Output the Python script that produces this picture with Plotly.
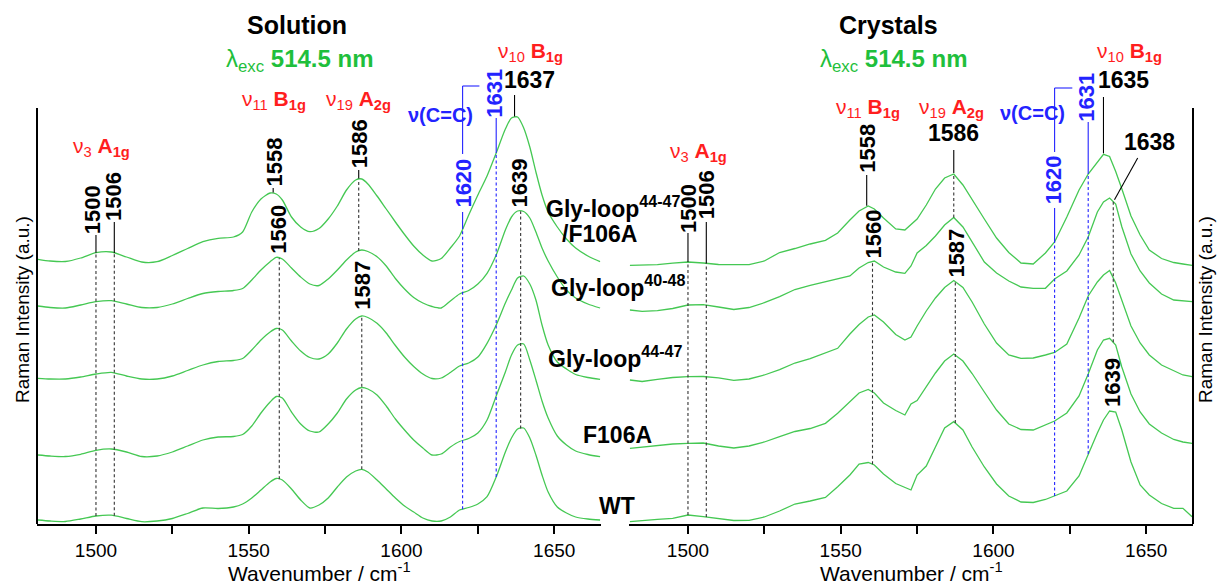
import numpy as np
import plotly.graph_objects as go

# ---------------- data ----------------
# Solution spectra (left panel); intensities in a.u. above each trace's own baseline
sol_wn = [1481, 1485, 1490, 1495, 1500, 1505, 1510, 1515, 1520, 1525,
          1530, 1535, 1540, 1545, 1548, 1551, 1554, 1557, 1559, 1561,
          1564, 1567, 1570, 1573, 1576, 1579, 1582, 1585, 1587, 1589,
          1592, 1595, 1598, 1601, 1604, 1607, 1610, 1613, 1616, 1619,
          1622, 1625, 1628, 1631, 1634, 1636, 1638, 1640, 1642, 1644,
          1646, 1648, 1651, 1654, 1657, 1661, 1665]
sol_WT = [4, 3, 2.5, 5, 8, 8.8, 5.5, 2.3, 3, 5.5,
          10.5, 16, 15.5, 17, 20, 26, 34, 42, 45.5, 44,
          35, 24, 16, 19, 26, 37, 47, 53, 54.7, 52,
          44, 35, 26, 18, 12, 6, 3, 3, 7, 14,
          16.5, 20, 27.3, 47, 72, 86, 95, 96, 86, 69,
          49, 32, 17, 11, 7, 5, 4]
sol_F106A = [3, 2, 1.5, 3.7, 7.7, 9, 6, 1.5, 2, 6,
             12, 18, 21, 21.5, 23.5, 32, 45, 56, 61.5, 60,
             46, 34, 27, 26, 34, 45, 59, 68, 70.5, 69,
             63, 52, 39, 28, 18, 10, 3, 4, 11, 16.5,
             19.5, 25, 38, 62, 86, 103, 113, 114, 98, 78,
             57, 40, 22, 13, 7, 3.5, 1.3]
sol_GL4447 = [3.7, 3, 3, 5, 8, 9.7, 6, 3, 3, 6,
              11.5, 17, 20.5, 21.5, 23.5, 32, 42, 50, 53.5, 52,
              41, 31, 24.5, 23, 28, 39, 53, 63, 66, 64.5,
              58.7, 49, 36.5, 25, 15.5, 8, 3.5, 4, 9.5, 16,
              19, 25, 38.7, 57, 79, 92, 104, 106, 98, 82,
              57, 37, 20, 13, 7.5, 4.5, 2.7]
sol_GL4048 = [4, 2.5, 2, 5, 8.3, 9.3, 6, 2.5, 2.5, 6,
              11.5, 16.5, 18.5, 19.5, 21.5, 30, 40, 48.3, 52.7, 51,
              42, 33, 26, 24.5, 31, 40, 50, 58, 60, 58.5,
              53.3, 44, 31.5, 21, 12.5, 7, 3.5, 2, 9, 16,
              19.5, 26, 36.7, 55, 80, 93, 99, 98.5, 92, 78,
              62, 49, 33, 20, 12, 6, 2]
sol_GL4447F = [2.7, 1, 0.5, 4, 9.3, 10, 5, 0, 0.3, 6.5,
               13.5, 20.3, 23.7, 25, 30, 50, 63, 69, 68, 62,
               45, 35, 30.3, 33.5, 43, 56, 72, 82, 83, 78,
               66, 53, 40, 27.5, 16, 7, 1, 3.5, 14, 26,
               47, 67, 86, 109, 133, 144, 145, 134, 115, 90,
               67, 50, 35, 23, 14, 6, 0.3]
sol_offsets = [0, 66, 142, 214, 262]

# Crystal spectra (right panel)
cry_wn = [1481, 1485, 1490, 1495, 1500, 1505, 1510, 1515, 1520, 1525,
          1530, 1535, 1540, 1545, 1549, 1553, 1556, 1559, 1561, 1564,
          1568, 1571, 1573, 1575, 1578, 1581, 1584, 1587, 1590, 1593,
          1597, 1601, 1605, 1609, 1613, 1617, 1620, 1624, 1628, 1631,
          1634, 1636, 1638, 1640, 1642, 1645, 1648, 1651, 1655, 1659,
          1662, 1665]
cry_WT = [2.3, 3.5, 4.7, 5.7, 9, 7.3, 5.7, 3.5, 3.7, 7,
          13, 20, 23, 26.5, 37.3, 49, 60, 61.5, 59, 50,
          40.5, 37, 34, 49, 58, 77, 96, 102.3, 94, 77,
          57, 40, 28, 22, 21.5, 24.5, 28, 33, 48, 70,
          91, 104, 113, 112, 94, 62, 39, 29, 20.5, 15.7,
          15.7, 7.3]
cry_F106A = [3.7, 5, 6, 8, 8.7, 9, 6, 4, 6, 10,
             15.3, 20.5, 23.5, 28.7, 38.7, 50.5, 59, 62.5, 59, 49,
             41.5, 37, 48, 51.5, 65, 79, 91, 98, 91, 78.5,
             60, 42, 28, 22.5, 22, 27, 31, 39, 56, 78,
             102, 112, 113.7, 107, 85, 58, 40, 28, 19, 12.5,
             10, 8.7]
cry_GL4447 = [2, 0.5, 2.7, 4.5, 5.3, 5.5, 4.2, 1.7, 3, 7,
              12.3, 19, 23.3, 28.7, 33.7, 48, 57.5, 65, 67, 60,
              47.5, 42, 45, 56, 71, 84, 94.5, 101.5, 94.5, 80,
              58, 39, 27, 23.7, 24, 27, 29.5, 38, 64, 86,
              100, 107, 111.5, 99, 82, 56, 39, 27, 17, 11,
              7, 5.3]
cry_GL4048 = [2, 0.7, 1.3, 3.5, 7, 7.3, 5, 2.5, 4.5, 9.3,
              15.3, 22.5, 26.7, 30.3, 32.7, 36, 44, 49.5, 51, 45,
              40, 38.7, 46, 59, 66.5, 76, 87, 94.5, 85, 70,
              50, 39, 31, 25, 23.7, 23.7, 33, 41, 57, 75,
              100, 110, 114, 108, 85.3, 58, 41, 29, 18, 12,
              11, 10.3]
cry_GL4447F = [2.7, 2.7, 3.3, 4.8, 6, 5, 3.5, 3.3, 3.3, 7,
               15.5, 19.5, 24, 27.7, 35, 48, 57, 62, 59, 50,
               39, 38, 44, 49, 63, 79, 90, 94, 83, 68,
               49, 30, 15.5, 5, 4, 15, 26, 51, 78, 94,
               106, 113.7, 111.5, 96.5, 79.3, 52, 33, 18, 9.5, 5.5,
               4, 2.7]
cry_offsets = [0, 72, 142, 212, 256]

sample_keys = ["WT", "F106A", "GL4447", "GL4048", "GL4447F"]
sample_labels = ["WT", "F106A", "Gly-loop<sup>44-47</sup>", "Gly-loop<sup>40-48</sup>",
                 "Gly-loop<sup>44-47</sup>"]

sol = dict(zip(sample_keys, [sol_WT, sol_F106A, sol_GL4447, sol_GL4048, sol_GL4447F]))
cry = dict(zip(sample_keys, [cry_WT, cry_F106A, cry_GL4447, cry_GL4048, cry_GL4447F]))
sol_off = dict(zip(sample_keys, sol_offsets))
cry_off = dict(zip(sample_keys, cry_offsets))
for k in sample_keys:
    assert len(sol[k]) == len(sol_wn) and len(cry[k]) == len(cry_wn)

x_ticks = [1500, 1525, 1550, 1575, 1600, 1625, 1650]
x_ticktext = ["1500", "", "1550", "", "1600", "", "1650"]
X_RANGE = [1480.7, 1665.3]

# ---------------- layout helpers ----------------
W, H = 1217, 587
ML, MR, MT, MB = 37, 24, 0, 63
PW, PH = W - ML - MR, H - MT - MB
FONT = "Arial, 'Liberation Sans', sans-serif"
GREEN = "#45c853"
RED = "#ff1e1e"
BLUE = "#2323ff"
TGREEN = "#1fbf3c"


def ypx(p):
    return PH - p


def xpaper(p):
    return (p - ML) / PW


def ysol(k, wn):
    return sol_off[k] + float(np.interp(wn, sol_wn, sol[k]))


def ycry(k, wn):
    return cry_off[k] + float(np.interp(wn, cry_wn, cry[k]))


fig = go.Figure()
for k in sample_keys:
    fig.add_trace(go.Scatter(x=sol_wn, y=[v + sol_off[k] for v in sol[k]], mode="lines",
                             line=dict(color=GREEN, width=1.3, shape="spline", smoothing=0.7),
                             xaxis="x", yaxis="y", showlegend=False, hoverinfo="skip"))
    fig.add_trace(go.Scatter(x=cry_wn, y=[v + cry_off[k] for v in cry[k]], mode="lines",
                             line=dict(color=GREEN, width=1.3),
                             xaxis="x2", yaxis="y2", showlegend=False, hoverinfo="skip"))

shapes = []
anns = []


def seg(xr, yr, x0, y0, x1, y1, color="black", dash="solid", width=1.1):
    shapes.append(dict(type="line", xref=xr, yref=yr, x0=x0, y0=y0, x1=x1, y1=y1,
                       line=dict(color=color, width=width, dash=dash)))


def ann(text, x, y, xr, yr, size, color="black", angle=0, xa="center", ya="middle"):
    anns.append(dict(text=text, x=x, y=y, xref=xr, yref=yr, showarrow=False,
                     textangle=angle, xanchor=xa, yanchor=ya,
                     font=dict(family=FONT, size=size, color=color)))


DASH = "3px,2.5px"
NUMSZ = 22
HNUMSZ = 23
MODESZ = 21
ROWSZ = 23


def mode(nu, sym, sub):
    return "ν<sub>%s</sub> <b>%s<sub>%s</sub></b>" % (nu, sym, sub)


LAMBDA = "λ<sub>exc</sub> <b>514.5 nm</b>"

# ---- left panel (Solution) ----
X, Y = "x", "y"
T = "GL4447F"
seg(X, Y, 1637, ysol(T, 1637) + 1, 1637, ypx(95))
seg(X, Y, 1558, ysol(T, 1558) + 1, 1558, ypx(188))
seg(X, Y, 1586, ysol(T, 1586) + 1, 1586, ypx(170))
for w, top in [(1500, 235), (1506, 222)]:
    seg(X, Y, w, ysol(T, w), w, ypx(top))
    seg(X, Y, w, ysol("WT", w), w, ysol(T, w), color="#333", dash=DASH)
seg(X, Y, 1586, ysol("GL4048", 1586), 1586, ysol(T, 1586), color="#333", dash=DASH)
seg(X, Y, 1560, ysol("WT", 1560), 1560, ysol("GL4048", 1560), color="#333", dash=DASH)
seg(X, Y, 1587, ysol("WT", 1587), 1587, ysol("GL4447", 1587), color="#333", dash=DASH)
seg(X, Y, 1639, ysol("WT", 1639), 1639, ysol("GL4048", 1639), color="#333", dash=DASH)
# blue bracket
seg(X, Y, 1620, ypx(86), 1620, ypx(154), color=BLUE)
seg(X, Y, 1620, ypx(212), 1620, ysol(T, 1620), color=BLUE)
seg(X, Y, 1620, ypx(86), 1625.5, ypx(86), color=BLUE)
seg(X, Y, 1631, ypx(118), 1631, ysol(T, 1631), color=BLUE)
seg(X, Y, 1620, ysol("WT", 1620), 1620, ysol(T, 1620), color=BLUE, dash=DASH)
seg(X, Y, 1631, ysol("WT", 1631), 1631, ysol(T, 1631), color=BLUE, dash=DASH)

ann("<b>Solution</b>", 1565.7, ypx(25), X, Y, 25)
ann(LAMBDA, 1566.9, ypx(60), X, Y, 24, TGREEN)
ann(mode("10", "B", "1g"), 1642.2, ypx(52), X, Y, MODESZ, RED)
ann("<b>1637</b>", 1642.0, ypx(80), X, Y, HNUMSZ)
ann(mode("11", "B", "1g"), 1558.4, ypx(100), X, Y, MODESZ, RED)
ann(mode("19", "A", "2g"), 1585.8, ypx(100), X, Y, MODESZ, RED)
ann("<b>ν(C=C)</b>", 1612.9, ypx(115), X, Y, 20, BLUE)
ann("<b>1620</b>", 1620, ypx(183), X, Y, NUMSZ, BLUE, angle=-90)
ann("<b>1631</b>", 1630.2, ypx(93), X, Y, NUMSZ, BLUE, angle=-90)
ann("<b>1558</b>", 1558.4, ypx(162), X, Y, NUMSZ, angle=-90)
ann("<b>1586</b>", 1586.2, ypx(144), X, Y, NUMSZ, angle=-90)
ann("<b>1500</b>", 1498.8, ypx(210), X, Y, NUMSZ, angle=-90)
ann("<b>1506</b>", 1505.6, ypx(197), X, Y, NUMSZ, angle=-90)
ann(mode("3", "A", "1g"), 1501.7, ypx(147), X, Y, MODESZ, RED)
ann("<b>1560</b>", 1559.5, ypx(229), X, Y, NUMSZ, angle=-90)
ann("<b>1587</b>", 1587.0, ypx(285), X, Y, NUMSZ, angle=-90)
ann("<b>1639</b>", 1638.6, ypx(183), X, Y, NUMSZ, angle=-90)

# ---- right panel (Crystals) ----
X, Y = "x2", "y2"
seg(X, Y, 1636, ycry(T, 1636) + 1, 1636, ypx(97))
seg(X, Y, 1558.5, ycry(T, 1558.5) + 1, 1558.5, ypx(175))
seg(X, Y, 1587, ycry(T, 1587) + 1, 1587, ypx(150))
for w, top in [(1500, 233), (1506, 222)]:
    seg(X, Y, w, ycry(T, w), w, ypx(top))
    seg(X, Y, w, ycry("WT", w), w, ycry(T, w), color="#333", dash=DASH)
seg(X, Y, 1647.2, ypx(158), 1639.6, ycry("GL4048", 1639.6) + 3)
seg(X, Y, 1587, ycry("GL4048", 1587), 1587, ycry(T, 1587), color="#333", dash=DASH)
seg(X, Y, 1560.4, ycry("WT", 1560.4), 1560.4, ycry("GL4048", 1560.4), color="#333", dash=DASH)
seg(X, Y, 1587.5, ycry("WT", 1587.5), 1587.5, ycry("GL4447", 1587.5), color="#333", dash=DASH)
seg(X, Y, 1639.2, ycry("F106A", 1639.2), 1639.2, ycry("GL4048", 1639.2), color="#333", dash=DASH)
seg(X, Y, 1620, ypx(88), 1620, ypx(152), color=BLUE)
seg(X, Y, 1620, ypx(208), 1620, ycry(T, 1620), color=BLUE)
seg(X, Y, 1620, ypx(88), 1625.8, ypx(88), color=BLUE)
seg(X, Y, 1631, ypx(122), 1631, ycry(T, 1631), color=BLUE)
seg(X, Y, 1620, ycry("WT", 1620), 1620, ycry(T, 1620), color=BLUE, dash=DASH)
seg(X, Y, 1631, ycry("WT", 1631), 1631, ycry(T, 1631), color=BLUE, dash=DASH)

ann("<b>Crystals</b>", 1565.6, ypx(25), X, Y, 25)
ann(LAMBDA, 1567.4, ypx(60), X, Y, 24, TGREEN)
ann(mode("10", "B", "1g"), 1644.6, ypx(52), X, Y, MODESZ, RED)
ann("<b>1635</b>", 1642.7, ypx(80), X, Y, HNUMSZ)
ann(mode("11", "B", "1g"), 1558.9, ypx(108), X, Y, MODESZ, RED)
ann(mode("19", "A", "2g"), 1586.4, ypx(108), X, Y, MODESZ, RED)
ann("<b>ν(C=C)</b>", 1612.9, ypx(113), X, Y, 20, BLUE)
ann("<b>1620</b>", 1619.6, ypx(180), X, Y, NUMSZ, BLUE, angle=-90)
ann("<b>1631</b>", 1630.2, ypx(97), X, Y, NUMSZ, BLUE, angle=-90)
ann("<b>1558</b>", 1558.5, ypx(148), X, Y, NUMSZ, angle=-90)
ann("<b>1586</b>", 1587.0, ypx(133), X, Y, HNUMSZ)
ann("<b>1638</b>", 1651.1, ypx(142), X, Y, HNUMSZ)
ann("<b>1500</b>", 1500.0, ypx(208), X, Y, NUMSZ, angle=-90)
ann("<b>1506</b>", 1506.0, ypx(195), X, Y, NUMSZ, angle=-90)
ann(mode("3", "A", "1g"), 1503.4, ypx(152), X, Y, MODESZ, RED)
ann("<b>1560</b>", 1560.4, ypx(234), X, Y, NUMSZ, angle=-90)
ann("<b>1587</b>", 1587.6, ypx(253), X, Y, NUMSZ, angle=-90)
ann("<b>1639</b>", 1638.8, ypx(383), X, Y, NUMSZ, angle=-90)

# ---- sample labels between the panels ----
row_pos = [(617, 506), (617, 435), (615, 357), (618, 286), (613, 207)]
for lab, (px, py) in zip(sample_labels, row_pos):
    ann("<b>%s</b>" % lab, xpaper(px), ypx(py), "paper", "y", ROWSZ)
ann("<b>/F106A</b>", xpaper(599), ypx(234), "paper", "y", ROWSZ)

# ---- axis titles ----
for xr in ["x", "x2"]:
    anns.append(dict(text="Wavenumber / cm<sup>-1</sup>", x=0.5 * sum(X_RANGE), xref=xr,
                     y=(PH - 572) / PH, yref="paper", showarrow=False,
                     xanchor="center", yanchor="middle",
                     font=dict(family=FONT, size=21, color="black")))
for xp in [xpaper(22), xpaper(1205)]:
    anns.append(dict(text="Raman Intensity (a.u.)", x=xp, xref="paper", y=ypx(310), yref="y",
                     showarrow=False, textangle=-90, xanchor="center", yanchor="middle",
                     font=dict(family=FONT, size=19, color="black")))

# y axis lines (only up to the top of the spectra region)
shapes.append(dict(type="line", xref="x domain", yref="y", x0=0, x1=0, y0=0, y1=ypx(108),
                   line=dict(color="black", width=2)))
shapes.append(dict(type="line", xref="x2 domain", yref="y2", x0=1, x1=1, y0=0, y1=ypx(108),
                   line=dict(color="black", width=2)))

xcommon = dict(range=X_RANGE, showline=True, linecolor="black", linewidth=2, ticks="outside",
               ticklen=8, tickwidth=1.5, tickcolor="black", tickvals=x_ticks, ticktext=x_ticktext,
               tickfont=dict(family=FONT, size=19, color="black"), showgrid=False, zeroline=False)
ycommon = dict(range=[0, PH], visible=False, showgrid=False, zeroline=False, domain=[0, 1])

fig.update_layout(
    width=W, height=H, margin=dict(l=ML, r=MR, t=MT, b=MB),
    paper_bgcolor="white", plot_bgcolor="white",
    font=dict(family=FONT, color="black"),
    xaxis=dict(domain=[0, (601 - ML) / PW], anchor="y", **xcommon),
    xaxis2=dict(domain=[(629 - ML) / PW, 1], anchor="y2", **xcommon),
    yaxis=dict(anchor="x", **ycommon),
    yaxis2=dict(anchor="x2", **ycommon),
    shapes=shapes, annotations=anns, showlegend=False,
)

fig.write_html("out.html")
